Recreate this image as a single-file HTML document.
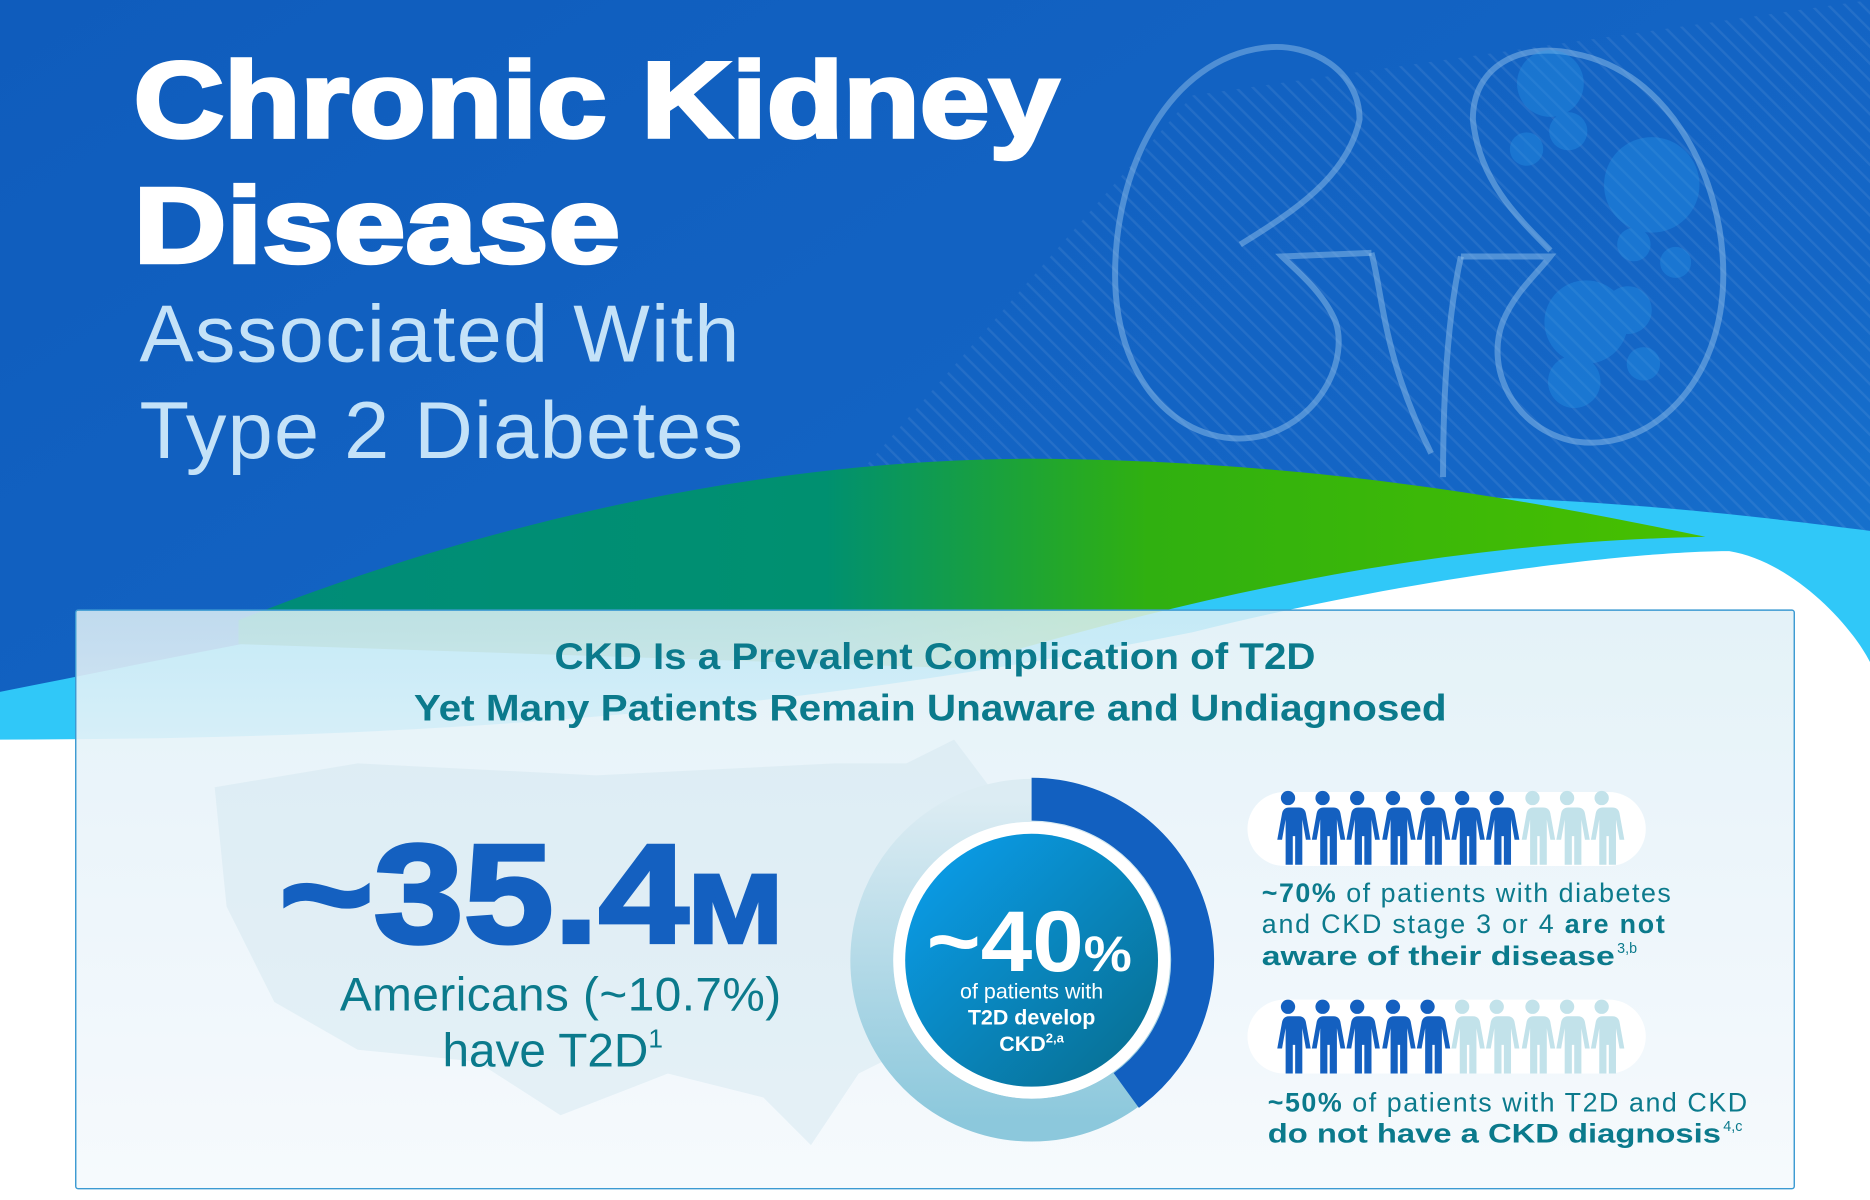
<!DOCTYPE html>
<html><head><meta charset="utf-8"><style>
html,body{margin:0;padding:0;width:1870px;height:1200px;overflow:hidden;background:#fff}
svg{display:block}
text{font-family:"Liberation Sans",Arial,sans-serif}
</style></head><body>
<svg width="1870" height="1200" viewBox="0 0 1568 1006" preserveAspectRatio="none">
<defs>
<linearGradient id="bg" x1="0" y1="0" x2="1" y2="1">
<stop offset="0" stop-color="#0f5cbc"/><stop offset="0.6" stop-color="#1466c6"/><stop offset="1" stop-color="#1a88dc"/></linearGradient>
<linearGradient id="grn" x1="0" y1="0" x2="1" y2="0">
<stop offset="0" stop-color="#008c78"/><stop offset="0.4" stop-color="#009070"/><stop offset="0.62" stop-color="#30b010"/><stop offset="1" stop-color="#48c000"/></linearGradient>
<linearGradient id="panel" x1="0" y1="0" x2="0" y2="1">
<stop offset="0" stop-color="#dff0f6" stop-opacity="0.85"/><stop offset="0.35" stop-color="#eaf4fa" stop-opacity="0.95"/><stop offset="1" stop-color="#f6fafd"/></linearGradient>
<linearGradient id="ring" x1="0" y1="0" x2="0" y2="1">
<stop offset="0" stop-color="#dcecf3"/><stop offset="1" stop-color="#8cc8dc"/></linearGradient>
<linearGradient id="core" x1="0" y1="0" x2="1" y2="1">
<stop offset="0" stop-color="#0aa0f0"/><stop offset="1" stop-color="#086c8c"/></linearGradient>
<pattern id="stripe" width="10" height="10" patternUnits="userSpaceOnUse" patternTransform="rotate(-45)">
<rect width="10" height="10" fill="none"/><rect width="2" height="10" fill="#ffffff" opacity="0.07"/></pattern>
<symbol id="p" viewBox="-15 0 30 62" overflow="visible">
<circle cx="0" cy="6" r="6"/>
<path d="M-9,14 h18 q5,0 6,5 l4,22 h-4 l-3,-17 v38 h-6 v-24 h-2 v24 h-6 v-38 l-3,17 h-4 l4,-22 q1,-5 6,-5z"/>
</symbol>
</defs>
<rect width="1568" height="1006" fill="url(#bg)"/>
<path d="M700,420 L1000,80 L1568,0 L1568,450 Z" fill="url(#stripe)"/>
<g fill="none" stroke="#9cc8ee" stroke-opacity="0.45" stroke-width="5">
<path d="M1040,205 C1080,180 1130,150 1140,100 C1140,60 1100,35 1060,40 C980,50 935,140 935,230 C935,330 1000,380 1060,365 C1110,350 1130,300 1120,270 C1110,245 1085,225 1075,215 L1150,212"/>
<path d="M1300,210 C1270,180 1240,150 1235,100 C1235,55 1275,35 1320,45 C1400,60 1445,150 1445,230 C1445,320 1385,380 1320,370 C1270,360 1245,310 1260,270 C1270,245 1290,228 1300,215 L1225,215"/>
<path d="M1150,212 C1160,250 1160,300 1200,380 M1225,215 C1215,260 1210,320 1210,400"/>
</g>
<g fill="#2aa0f0" opacity="0.3">
<circle cx="1300" cy="70" r="28"/><circle cx="1385" cy="155" r="40"/><circle cx="1330" cy="270" r="35"/><circle cx="1365" cy="260" r="20"/><circle cx="1320" cy="320" r="22"/><circle cx="1280" cy="125" r="14"/><circle cx="1370" cy="205" r="14"/><circle cx="1405" cy="220" r="13"/><circle cx="1378" cy="305" r="14"/><circle cx="1315" cy="110" r="16"/>
</g>
<path d="M0,580 C300,520 700,440 1000,420 C1250,405 1450,430 1568,445 L1568,1006 L0,1006 Z" fill="#30c8f8"/>
<path d="M200,520 C450,420 700,380 900,385 C1150,390 1330,430 1430,450 C1200,455 1000,500 800,560 L200,540 Z" fill="url(#grn)"/>
<path d="M0,620 C400,620 700,590 1000,530 C1200,480 1380,462 1450,462 C1500,470 1550,520 1568,555 L1568,1006 L0,1006 Z" fill="#ffffff"/>
<text x="112" y="115" font-size="90" font-weight="bold" fill="#fff" stroke="#fff" stroke-width="3" textLength="776" lengthAdjust="spacingAndGlyphs">Chronic Kidney</text>
<text x="112" y="220" font-size="90" font-weight="bold" fill="#fff" stroke="#fff" stroke-width="3" textLength="408" lengthAdjust="spacingAndGlyphs">Disease</text>
<text x="117" y="303" font-size="68" fill="#c4e2f8" textLength="503">Associated With</text>
<text x="117" y="384" font-size="68" fill="#c4e2f8" textLength="506">Type 2 Diabetes</text>
<rect x="63.5" y="511.5" width="1441" height="485" fill="url(#panel)" stroke="#3c9ad2" stroke-width="1.2" rx="2"/>
<path d="M180,660 L300,640 L500,650 L700,640 L760,640 L800,620 L830,660 L800,700 L820,760 L800,840 L760,880 L720,900 L680,960 L640,920 L560,900 L470,935 L400,890 L300,880 L230,840 L190,760 Z" fill="#cde3ee" opacity="0.4"/>
<text x="465" y="561" font-size="31" font-weight="bold" fill="#0b7a8c" textLength="638" lengthAdjust="spacingAndGlyphs">CKD Is a Prevalent Complication of T2D</text>
<text x="347" y="604" font-size="31" font-weight="bold" fill="#0b7a8c" textLength="866" lengthAdjust="spacingAndGlyphs">Yet Many Patients Remain Unaware and Undiagnosed</text>
<text x="234" y="790" font-size="118" font-weight="bold" fill="#1460c0" textLength="422" lengthAdjust="spacingAndGlyphs" stroke="#1460c0" stroke-width="3">~35.4<tspan font-size="82">M</tspan></text>
<text x="285" y="847" font-size="40" fill="#0b7a8c" textLength="370">Americans (~10.7%)</text>
<text x="371" y="894" font-size="40" fill="#0b7a8c">have T2D<tspan font-size="22" dy="-16">1</tspan></text>
<circle cx="865" cy="805" r="134" fill="none" stroke="url(#ring)" stroke-width="36"/>
<path d="M865,670 A135,135 0 0 1 944.4,914.2" fill="none" stroke="#1260c0" stroke-width="36"/>
<circle cx="865" cy="805" r="116" fill="#fff"/>
<circle cx="865" cy="805" r="106" fill="url(#core)"/>
<text x="777" y="814" font-size="72" font-weight="bold" fill="#fff" textLength="172" lengthAdjust="spacingAndGlyphs">~40<tspan font-size="42">%</tspan></text>
<text x="865" y="837" font-size="18" fill="#fff" text-anchor="middle">of patients with</text>
<text x="865" y="859" font-size="18" font-weight="bold" fill="#fff" text-anchor="middle">T2D develop</text>
<text x="865" y="881" font-size="18" font-weight="bold" fill="#fff" text-anchor="middle">CKD<tspan font-size="11" dy="-7">2,a</tspan></text>
<rect x="1046" y="664" width="334" height="62" rx="31" fill="#fff"/>
<rect x="1046" y="838" width="334" height="62" rx="31" fill="#fff"/>
<g fill="#1460c0">
<use href="#p" x="1065" y="663" width="30" height="62"/><use href="#p" x="1094" y="663" width="30" height="62"/><use href="#p" x="1123" y="663" width="30" height="62"/><use href="#p" x="1153" y="663" width="30" height="62"/><use href="#p" x="1182" y="663" width="30" height="62"/><use href="#p" x="1211" y="663" width="30" height="62"/><use href="#p" x="1240" y="663" width="30" height="62"/>
<use href="#p" x="1065" y="838" width="30" height="62"/><use href="#p" x="1094" y="838" width="30" height="62"/><use href="#p" x="1123" y="838" width="30" height="62"/><use href="#p" x="1153" y="838" width="30" height="62"/><use href="#p" x="1182" y="838" width="30" height="62"/>
</g>
<g fill="#c2e2ea">
<use href="#p" x="1270" y="663" width="30" height="62"/><use href="#p" x="1299" y="663" width="30" height="62"/><use href="#p" x="1328" y="663" width="30" height="62"/>
<use href="#p" x="1211" y="838" width="30" height="62"/><use href="#p" x="1240" y="838" width="30" height="62"/><use href="#p" x="1270" y="838" width="30" height="62"/><use href="#p" x="1299" y="838" width="30" height="62"/><use href="#p" x="1328" y="838" width="30" height="62"/>
</g>
<g font-size="22.5" fill="#0b7a8c">
<text x="1058" y="756" textLength="343"><tspan font-weight="bold">~70%</tspan> of patients with diabetes</text>
<text x="1058" y="782" textLength="338">and CKD stage 3 or 4 <tspan font-weight="bold">are not</tspan></text>
<text x="1058" y="809" font-weight="bold" textLength="296" lengthAdjust="spacingAndGlyphs">aware of their disease</text>
<text x="1356" y="799" font-size="12">3,b</text>
<text x="1063" y="932" textLength="402"><tspan font-weight="bold">~50%</tspan> of patients with T2D and CKD</text>
<text x="1063" y="958" font-weight="bold" textLength="380" lengthAdjust="spacingAndGlyphs">do not have a CKD diagnosis</text>
<text x="1445" y="948" font-size="12">4,c</text>
</g>
</svg>
</body></html>
